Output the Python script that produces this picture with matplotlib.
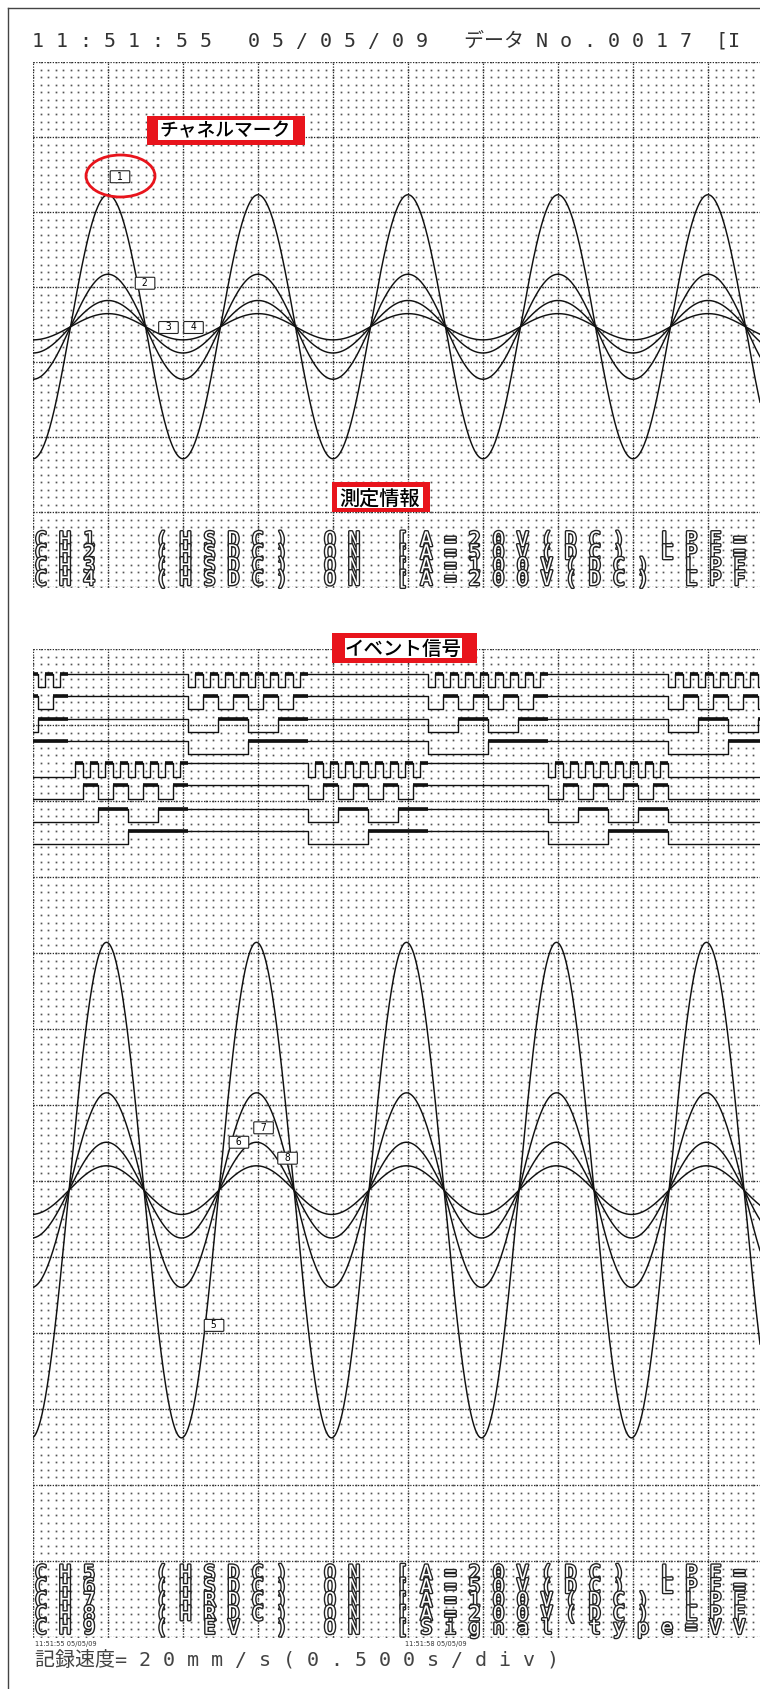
import numpy as np
import matplotlib
matplotlib.use("Agg")
import matplotlib.pyplot as plt
import matplotlib.patheffects as pe
from matplotlib.patches import Rectangle, Ellipse

# ---- values ----
SEC_PER_DIV = 0.5
SIG_FREQ = 1.0          # Hz (one period = 2 div)
T_END = 727 / 150.0     # visible record length in s

# upper analog group (amplitude in div)
top_names = ["CH1", "CH2", "CH3", "CH4"]
top_amp = [1.76, 0.70, 0.35, 0.175]
top_center = 3.47
top_peak_t = 0.50

# lower analog group
bot_names = ["CH5", "CH6", "CH7", "CH8"]
bot_amp = [3.26, 1.28, 0.63, 0.32]
bot_center = 5.88
bot_peak_t = 0.49

# event channel (8 logic lines)
event_low = [12.50, 12.21, 11.91, 11.62, 11.32, 11.03, 10.72, 10.43]
event_high = 0.175
event_bits = ["0101010101010101", "0011001100110011",
              "0000111100001111", "0000000011111111"] * 2
event_group = [0, 0, 0, 0, 1, 1, 1, 1]
burst_starts = [[-0.567, 1.033, 2.633, 4.233], [0.233, 1.833, 3.433]]
state_len = 0.05

# channel marks (label, t, div)
marks_top = [("1", 0.58, 5.47), ("2", 0.747, 4.05), ("3", 0.903, 3.46), ("4", 1.07, 3.46)]
marks_bot = [("7", 1.537, 6.70), ("6", 1.373, 6.51), ("8", 1.697, 6.30), ("5", 1.207, 4.10)]

header = " ".join("11:51:55 05/05/09") + "   データ " + " ".join("No.0017 ") + "[I"
info_top = ["CH1  (HSDC) ON [A=20V(DC) LPF=",
            "CH2  (HSDC) ON [A=50V(DC) LPF=",
            "CH3  (HSDC) ON [A=100V(DC) LPF",
            "CH4  (HSDC) ON [A=200V(DC) LPF"]
info_bot = ["CH5  (HSDC) ON [A=20V(DC) LPF=",
            "CH6  (HSDC) ON [A=50V(DC) LPF=",
            "CH7  (HRDC) ON [A=100V(DC) LPF",
            "CH8  (HRDC) ON [A=200V(DC) LPF",
            "CH9  ( EV ) ON [Signal type=VV"]
stamps = [("11:51:55 05/05/09", 35), ("11:51:58 05/05/09", 405)]
speed = "記録速度" + " ".join("=20mm/s(0.500s/div)")

W, H = 760, 1689
fig = plt.figure(figsize=(W / 100, H / 100), dpi=100)
fig.patch.set_facecolor("white")

MONO = ["DejaVu Sans Mono", "Noto Sans CJK JP"]
GRID_C = "#2a2a2a"


def chart_axes(top_px, bottom_px, ndiv):
    ax = fig.add_axes([33 / W, 1 - bottom_px / H, (W - 33) / W, (bottom_px - top_px) / H])
    ax.set_xlim(0, T_END)
    ax.set_ylim(0, ndiv)
    ax.axis("off")
    # minor dot matrix
    xs = np.arange(0, T_END + 1e-6, SEC_PER_DIV / 10)
    ys = np.arange(0, ndiv + 1e-6, 0.1)
    X, Y = np.meshgrid(xs, ys)
    ax.plot(X.ravel(), Y.ravel(), ls="none", marker="s", ms=1.25, mew=0,
            color="#555555", zorder=1)
    # major dotted lines
    for xv in np.arange(0, T_END, SEC_PER_DIV):
        ax.axvline(xv, color=GRID_C, lw=0.9, ls=(0, (1, 1.2)), zorder=2)
    for yv in range(ndiv + 1):
        ax.axhline(yv, color=GRID_C, lw=0.9, ls=(0, (1, 1.2)), zorder=2)
    return ax


ax1 = chart_axes(62, 587, 7)
ax2 = chart_axes(649, 1637, 13)

t = np.linspace(0, T_END, 3000)
for amp in top_amp:
    ax1.plot(t, top_center + amp * np.cos(2 * np.pi * SIG_FREQ * (t - top_peak_t)),
             color="#111111", lw=1.05, zorder=4)
for amp in bot_amp:
    ax2.plot(t, bot_center + amp * np.cos(2 * np.pi * SIG_FREQ * (t - bot_peak_t)),
             color="#111111", lw=1.05, zorder=4)

# event lines: thin step trace, thick stroke on the high level
for low, bits, grp in zip(event_low, event_bits, event_group):
    segs = []
    for b in burst_starts[grp]:
        for i, c in enumerate(bits):
            segs.append((b + i * state_len, b + (i + 1) * state_len, int(c)))
    px, py = [-1.0], [low]
    cur = low
    for t0, t1, lv in segs:
        y = low + event_high * lv
        if lv:
            ax2.hlines(y, t0, t1, color="#111111", lw=2.6, zorder=5)
        if y != cur:
            px += [t0, t0]
            py += [cur, y]
            cur = y
        px.append(t1)
        py.append(y)
    px += [px[-1], T_END + 1]
    py += [low, low]
    ax2.plot(px, py, color="#111111", lw=1.0, zorder=5)

for ax, marks in ((ax1, marks_top), (ax2, marks_bot)):
    for lab, mt, mv in marks:
        ax.text(mt, mv, " " + lab + " ", ha="center", va="center", fontsize=7,
                family=MONO, zorder=6,
                bbox=dict(boxstyle="round,pad=0.1", fc="white", ec="#222222", lw=0.8))

# overlay in pixel coordinates for the printed texts and annotations
ov = fig.add_axes([0, 0, 1, 1], zorder=10)
ov.set_xlim(0, W)
ov.set_ylim(H, 0)
ov.axis("off")

ov.plot([8, 8], [8, H], color="#444444", lw=1.0)
ov.plot([8, W], [8, 8], color="#444444", lw=1.0)

ov.text(32, 41, header, fontsize=14.4, family=MONO, color="#333333", va="center", ha="left")

outline = [pe.withStroke(linewidth=2.0, foreground="#222222")]
ov.text(35, 560, "\n".join(" ".join(s) for s in info_top), fontsize=14.4, family=MONO,
        color="white", va="center", ha="left", linespacing=0.60, path_effects=outline)
ov.text(35, 1601, "\n".join(" ".join(s) for s in info_bot), fontsize=14.4, family=MONO,
        color="white", va="center", ha="left", linespacing=0.64, path_effects=outline)

for s, x in stamps:
    ov.text(x, 1644, s, fontsize=4.8, family="DejaVu Sans", color="#333333", va="center")
ov.text(35, 1661, speed, fontsize=14.4, family=MONO, color="#444444", va="center")

RED = "#e8141c"
callouts = [("チャネルマーク", (147, 116, 305, 145), (158, 120, 293, 140), 13.5),
            ("測定情報", (332, 482, 430, 512), (337, 487, 423, 508), 14.5),
            ("イベント信号", (332, 633, 477, 663), (345, 638, 462, 658), 14)]
for txt, outer, inner, fs in callouts:
    ov.add_patch(Rectangle((outer[0], outer[1]), outer[2] - outer[0], outer[3] - outer[1],
                           fc=RED, ec="none"))
    ov.add_patch(Rectangle((inner[0], inner[1]), inner[2] - inner[0], inner[3] - inner[1],
                           fc="white", ec="none"))
    ov.text((inner[0] + inner[2]) / 2, (inner[1] + inner[3]) / 2 + 1, txt, fontsize=fs,
            family="Noto Sans CJK JP", weight="medium", color="black",
            ha="center", va="center")

ov.add_patch(Ellipse((120.5, 176), 69, 42, fill=False, ec=RED, lw=2.0))

fig.savefig("out.png", dpi=100)
